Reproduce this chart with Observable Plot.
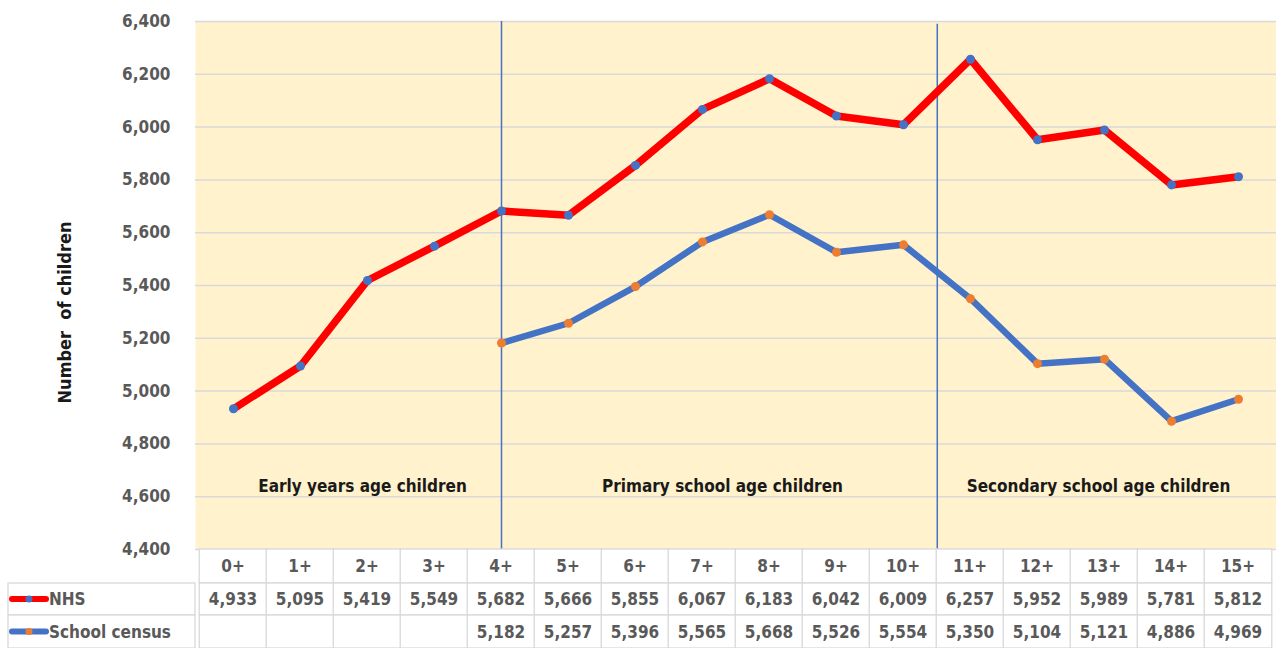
<!DOCTYPE html>
<html>
<head>
<meta charset="utf-8">
<script src="https://cdn.jsdelivr.net/npm/d3@7"></script>
<script src="https://cdn.jsdelivr.net/npm/@observablehq/plot@0.6"></script>
<style>
  html, body { margin: 0; padding: 0; background: #fff; }
  svg text { white-space: pre; }
</style>
</head>
<body>
<div id="chart"></div>
<script>
const ages = ["0+","1+","2+","3+","4+","5+","6+","7+","8+","9+","10+","11+","12+","13+","14+","15+"];
const nhs = [4933,5095,5419,5549,5682,5666,5855,6067,6183,6042,6009,6257,5952,5989,5781,5812];
const census = [null,null,null,null,5182,5257,5396,5565,5668,5526,5554,5350,5104,5121,4886,4969];
const seriesNames = ["NHS","School census"];
const yTicks = [4400,4600,4800,5000,5200,5400,5600,5800,6000,6200,6400];
const regionLabels = ["Early years age children","Primary school age children","Secondary school age children"];
const regionAt = ["2+","7+","13+"];
const dividerAges = ["4+","10+"];   // line through 4+, line after 10+
const yTitle = "Number  of children";

const W = 1276, H = 648, ML = 195, MR = 0, MT = 21, MB = 99;
const step = (W - ML - MR) / ages.length;
const FONT = "'DejaVu Sans Condensed','Liberation Sans Narrow','Roboto',sans-serif";

const rows = ages.map((a, i) => ({age: a, nhs: nhs[i], census: census[i]}));
const censusRows = rows.filter(d => d.census != null);
const regionOffsets = [-5, 20, -6];

const plot = Plot.plot({
  width: W, height: H,
  marginLeft: ML, marginRight: MR, marginTop: MT, marginBottom: MB,
  style: {fontFamily: FONT, fontSize: "17px", color: "#595959", background: "#fff", overflow: "visible"},
  x: {type: "point", domain: ages, padding: 0.5, axis: null},
  y: {domain: [4400, 6400], ticks: yTicks, tickFormat: d3.format(","), tickSize: 0, tickPadding: 25, label: null},
  marks: [
    Plot.frame({fill: "#FFF2CC", stroke: "none"}),
    Plot.ruleY(yTicks, {stroke: "#D9D9D9", strokeWidth: 1.5}),
    Plot.ruleX([dividerAges[0]], {stroke: "#4472C4", strokeWidth: 1.5}),
    Plot.ruleX([dividerAges[1]], {stroke: "#4472C4", strokeWidth: 1.5, dx: step / 2, y1: 6390, y2: 4400}),
    ...regionLabels.map((lab, i) =>
      Plot.text([lab], {x: [regionAt[i]], frameAnchor: "bottom", lineAnchor: "middle", dy: -63, dx: regionOffsets[i],
        text: d => d, fill: "#1a1a1a", fontSize: 17, fontWeight: "bold"})),
    Plot.line(rows, {x: "age", y: "nhs", stroke: "#FF0000", strokeWidth: 7.5, strokeLinejoin: "round"}),
    Plot.dot(rows, {x: "age", y: "nhs", r: 4.5, fill: "#4472C4", stroke: "none"}),
    Plot.line(censusRows, {x: "age", y: "census", stroke: "#4472C4", strokeWidth: 6.5, strokeLinejoin: "round"}),
    Plot.dot(censusRows, {x: "age", y: "census", r: 4.5, fill: "#ED7D31", stroke: "none"}),
    Plot.text([yTitle], {frameAnchor: "left", textAnchor: "middle", rotate: -90, dx: -130, dy: 27, text: d => d,
      fontWeight: "bold", fontSize: 18, fill: "#1a1a1a"})
  ]
});

d3.select(plot).selectAll("g[aria-label='y-axis tick label'] text, g[aria-label='y-axis'] text")
  .attr("font-weight", "bold").attr("font-size", 17);

// Data table below the plot, aligned with Plot's x scale
const xs = plot.scale("x");
const g = d3.select(plot).append("g").attr("font-family", FONT).attr("font-size", 17);
const rowY = [549, 583, 615, 648];
const grid = "#D9D9D9";
const fmt = d3.format(",");
const tableRows = [ages, nhs, census];
for (let r = 0; r < 3; r++) {
  const y0 = rowY[r], y1 = rowY[r + 1];
  ages.forEach((a, i) => {
    const cx = xs.apply(a);
    g.append("rect").attr("x", cx - step / 2).attr("y", y0).attr("width", step).attr("height", y1 - y0)
      .attr("fill", "#fff").attr("stroke", grid).attr("stroke-width", 1.3);
    const v = tableRows[r][i];
    if (v != null) {
      g.append("text").attr("x", cx).attr("y", (y0 + y1) / 2).attr("dy", "0.36em")
        .attr("text-anchor", "middle").attr("fill", "#595959").attr("font-weight", "bold")
        .text(r === 0 ? v : fmt(v));
    }
  });
}
const lineColors = ["#FF0000", "#4472C4"], dotColors = ["#4472C4", "#ED7D31"];
seriesNames.forEach((name, k) => {
  const y0 = rowY[k + 1], y1 = rowY[k + 2], cy = (y0 + y1) / 2;
  g.append("rect").attr("x", 8).attr("y", y0).attr("width", ML - 8).attr("height", y1 - y0)
    .attr("fill", "#fff").attr("stroke", grid).attr("stroke-width", 1.3);
  g.append("line").attr("x1", 12).attr("x2", 46).attr("y1", cy).attr("y2", cy)
    .attr("stroke", lineColors[k]).attr("stroke-width", 6).attr("stroke-linecap", "round");
  g.append("circle").attr("cx", 29).attr("cy", cy).attr("r", 3.5).attr("fill", dotColors[k]);
  g.append("text").attr("x", 49).attr("y", cy).attr("dy", "0.36em").attr("fill", "#595959")
    .attr("text-anchor", "start").attr("font-weight", "bold").text(name);
});

document.getElementById("chart").appendChild(plot);
</script>
</body>
</html>
